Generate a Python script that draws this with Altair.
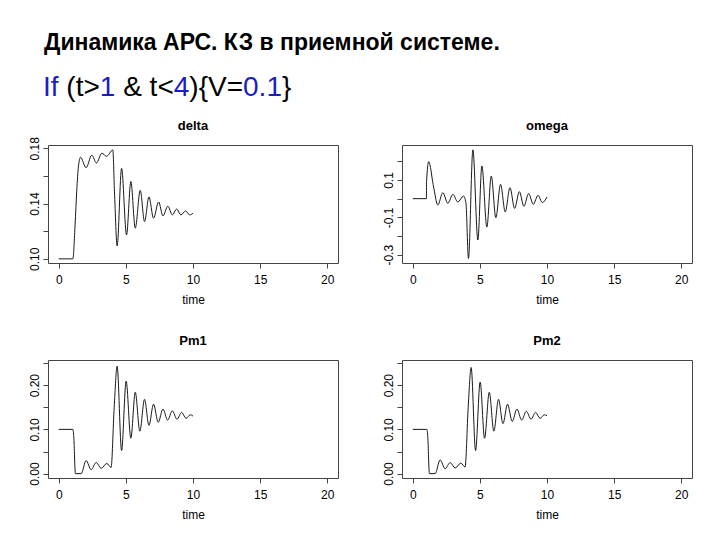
import altair as alt
import pandas as pd

# ---------------- data ----------------
delta_t = [0, 1.05, 1.22, 1.34, 1.47, 1.62, 2.04, 2.46, 2.81, 3.21, 3.56, 4.03, 4.15, 4.35,
           4.68, 5.05, 5.37, 5.70, 6.07, 6.39, 6.72, 7.06, 7.44, 7.76, 8.13, 8.46, 8.78,
           9.10, 9.45, 9.75, 10.0]
delta_v = [0.100, 0.100, 0.125, 0.149, 0.167, 0.1735, 0.166, 0.175, 0.1694, 0.1764, 0.1742,
           0.1788, 0.149, 0.1094, 0.1655, 0.1173, 0.156, 0.1222, 0.1496, 0.127, 0.1448,
           0.1294, 0.1412, 0.1311, 0.1381, 0.1318, 0.1361, 0.1318, 0.1347, 0.1318, 0.1330]

omega_t = [0, 1.02, 1.03, 1.19, 1.54, 1.87, 2.24, 2.61, 2.99, 3.36, 3.78, 3.96, 4.15, 4.48,
           4.85, 5.15, 5.52, 5.85, 6.19, 6.54, 6.89, 7.24, 7.59, 7.94, 8.28, 8.63, 8.98,
           9.33, 9.65, 10.0]
omega_v = [0.0, 0.0, 0.09, 0.198, 0.068, -0.034, 0.032, -0.025, 0.023, -0.018, 0.014, -0.021,
           -0.32, 0.261, -0.221, 0.175, -0.152, 0.121, -0.102, 0.077, -0.071, 0.059, -0.052,
           0.0375, -0.041, 0.027, -0.030, 0.018, -0.021, 0.009]

pm1_t = [0, 1.05, 1.12, 1.24, 1.67, 2.04, 2.41, 2.79, 3.16, 3.58, 3.90, 4.13, 4.35, 4.68,
         5.02, 5.37, 5.70, 6.04, 6.39, 6.72, 7.06, 7.41, 7.76, 8.11, 8.46, 8.81, 9.15, 9.48,
         9.80, 10.0]
pm1_v = [0.10, 0.10, 0.083, 0.0, 0.0, 0.0296, 0.0089, 0.0252, 0.0119, 0.023, 0.014, 0.15,
         0.243, 0.052, 0.209, 0.080, 0.184, 0.096, 0.168, 0.109, 0.157, 0.116, 0.146, 0.121,
         0.142, 0.123, 0.1385, 0.125, 0.133, 0.130]

pm2_t = [0, 1.05, 1.12, 1.24, 1.67, 2.04, 2.41, 2.79, 3.16, 3.58, 3.90, 4.13, 4.35, 4.68,
         5.02, 5.35, 5.70, 6.04, 6.39, 6.72, 7.06, 7.41, 7.76, 8.11, 8.46, 8.81, 9.15, 9.48,
         9.80, 10.0]
pm2_v = [0.10, 0.10, 0.083, 0.0, 0.0, 0.031, 0.011, 0.025, 0.0126, 0.0237, 0.0148, 0.15,
         0.24, 0.052, 0.207, 0.080, 0.184, 0.096, 0.168, 0.113, 0.157, 0.118, 0.146, 0.121,
         0.141, 0.123, 0.1385, 0.125, 0.133, 0.131]

x_ticks = [0, 5, 10, 15, 20]
delta_ticks = [0.10, 0.12, 0.14, 0.16, 0.18]
delta_labeled = [0.10, 0.14, 0.18]
omega_ticks = [-0.3, -0.2, -0.1, 0.0, 0.1, 0.2]
omega_labeled = [-0.3, -0.1, 0.1]
pm_ticks = [0.0, 0.05, 0.10, 0.15, 0.20, 0.25]
pm_labeled = [0.0, 0.10, 0.20]

header1 = "Динамика АРС. КЗ в приемной системе."
header2 = "If (t>1 & t<4){V=0.1}"
header2_blue = {0, 1, 6, 12, 17, 18, 19}

# ---------------- styling / layout ----------------
FONT = "Liberation Sans"
W, H = 290, 118
BLUE = "#1c1cc4"
X_DOMAIN = [-0.8, 20.8]


def label_expr(labeled, decimals):
    cond = " || ".join(f"abs(datum.value - ({v})) < 1e-9" for v in labeled)
    txt = f"(datum.value < 0 ? '-' : '') + format(abs(datum.value), '.{decimals}f')"
    return f"({cond}) ? {txt} : ''"


def one_row():
    return alt.Chart(pd.DataFrame({"k": [0]}))


def panel(title, t, v, domain, ticks, labeled, decimals, extra=None):
    df = pd.DataFrame({"time": t, "value": v})
    line = alt.Chart(df).mark_line(interpolate="monotone", color="#1a1a1a", strokeWidth=1).encode(
        x=alt.X("time:Q",
                scale=alt.Scale(domain=X_DOMAIN, nice=False, zero=False),
                axis=alt.Axis(values=x_ticks, format="d", title="time",
                              labelPadding=6, titlePadding=9)),
        y=alt.Y("value:Q",
                scale=alt.Scale(domain=domain, nice=False, zero=False),
                axis=alt.Axis(values=ticks, labelExpr=label_expr(labeled, decimals),
                              title=None, labelAngle=270, labelAlign="center",
                              labelBaseline="bottom", labelPadding=2)),
    )
    ttl = one_row().mark_text(text=title, font=FONT, fontSize=13, fontWeight="bold",
                              align="center", baseline="middle", color="#000").encode(
        x=alt.value(W / 2), y=alt.value(-19))
    layers = [line, ttl]
    if extra:
        layers += extra
    return alt.layer(*layers).properties(width=W, height=H)


# header text (placed relative to the top-left panel's plot area)
char_w = {'I': .278, 'f': .278, ' ': .278, '(': .333, 't': .278, '>': .584, '1': .556,
          '&': .667, '<': .584, '4': .556, ')': .333, '{': .334, 'V': .667, '=': .584,
          '0': .556, '.': .278, '}': .334}
FS2 = 28
runs = []
xem, cur, cur_x, cur_c = 0.0, "", 0.0, None
for i, ch in enumerate(header2):
    c = BLUE if i in header2_blue else "#000000"
    if ch == " ":
        if cur:
            runs.append((cur, cur_x, cur_c))
            cur = ""
        xem += char_w[ch]
        continue
    if cur and c != cur_c:
        runs.append((cur, cur_x, cur_c))
        cur = ""
    if not cur:
        cur_x, cur_c = xem, c
    cur += ch
    xem += char_w[ch]
if cur:
    runs.append((cur, cur_x, cur_c))

header_layers = [
    one_row().mark_text(text=header1, font=FONT, fontSize=23, fontWeight="bold",
                        align="left", baseline="alphabetic", color="#000").encode(
        x=alt.value(-4), y=alt.value(-95))
]
for txt, xe, col in runs:
    header_layers.append(
        one_row().mark_text(text=txt, font=FONT, fontSize=FS2, align="left",
                            baseline="alphabetic", color=col).encode(
            x=alt.value(-5 + xe * FS2), y=alt.value(-49)))

delta_dom = [0.097, 0.1824]
omega_dom = [-0.344, 0.287]
pm_dom = [-0.0099, 0.2569]

p_delta = panel("delta", delta_t, delta_v, delta_dom, delta_ticks, delta_labeled, 2, header_layers)
p_omega = panel("omega", omega_t, omega_v, omega_dom, omega_ticks, omega_labeled, 1)
p_pm1 = panel("Pm1", pm1_t, pm1_v, pm_dom, pm_ticks, pm_labeled, 2)
p_pm2 = panel("Pm2", pm2_t, pm2_v, pm_dom, pm_ticks, pm_labeled, 2)

chart = alt.concat(
    p_delta, p_omega, p_pm1, p_pm2,
    columns=2, spacing={"row": 97, "column": 64}, bounds="flush",
).properties(
    padding={"left": 27, "top": 31, "right": 5, "bottom": 5},
    background="white",
).configure_view(
    stroke="#444444", strokeWidth=1
).configure_axis(
    domain=False, grid=False, ticks=True, tickSize=5, tickColor="#444444", tickWidth=1,
    labelFont=FONT, labelFontSize=12, labelColor="#000",
    titleFont=FONT, titleFontSize=12, titleFontWeight="normal", titleColor="#000",
)

chart.save("out.html", embed_options={"renderer": "svg", "actions": False})
